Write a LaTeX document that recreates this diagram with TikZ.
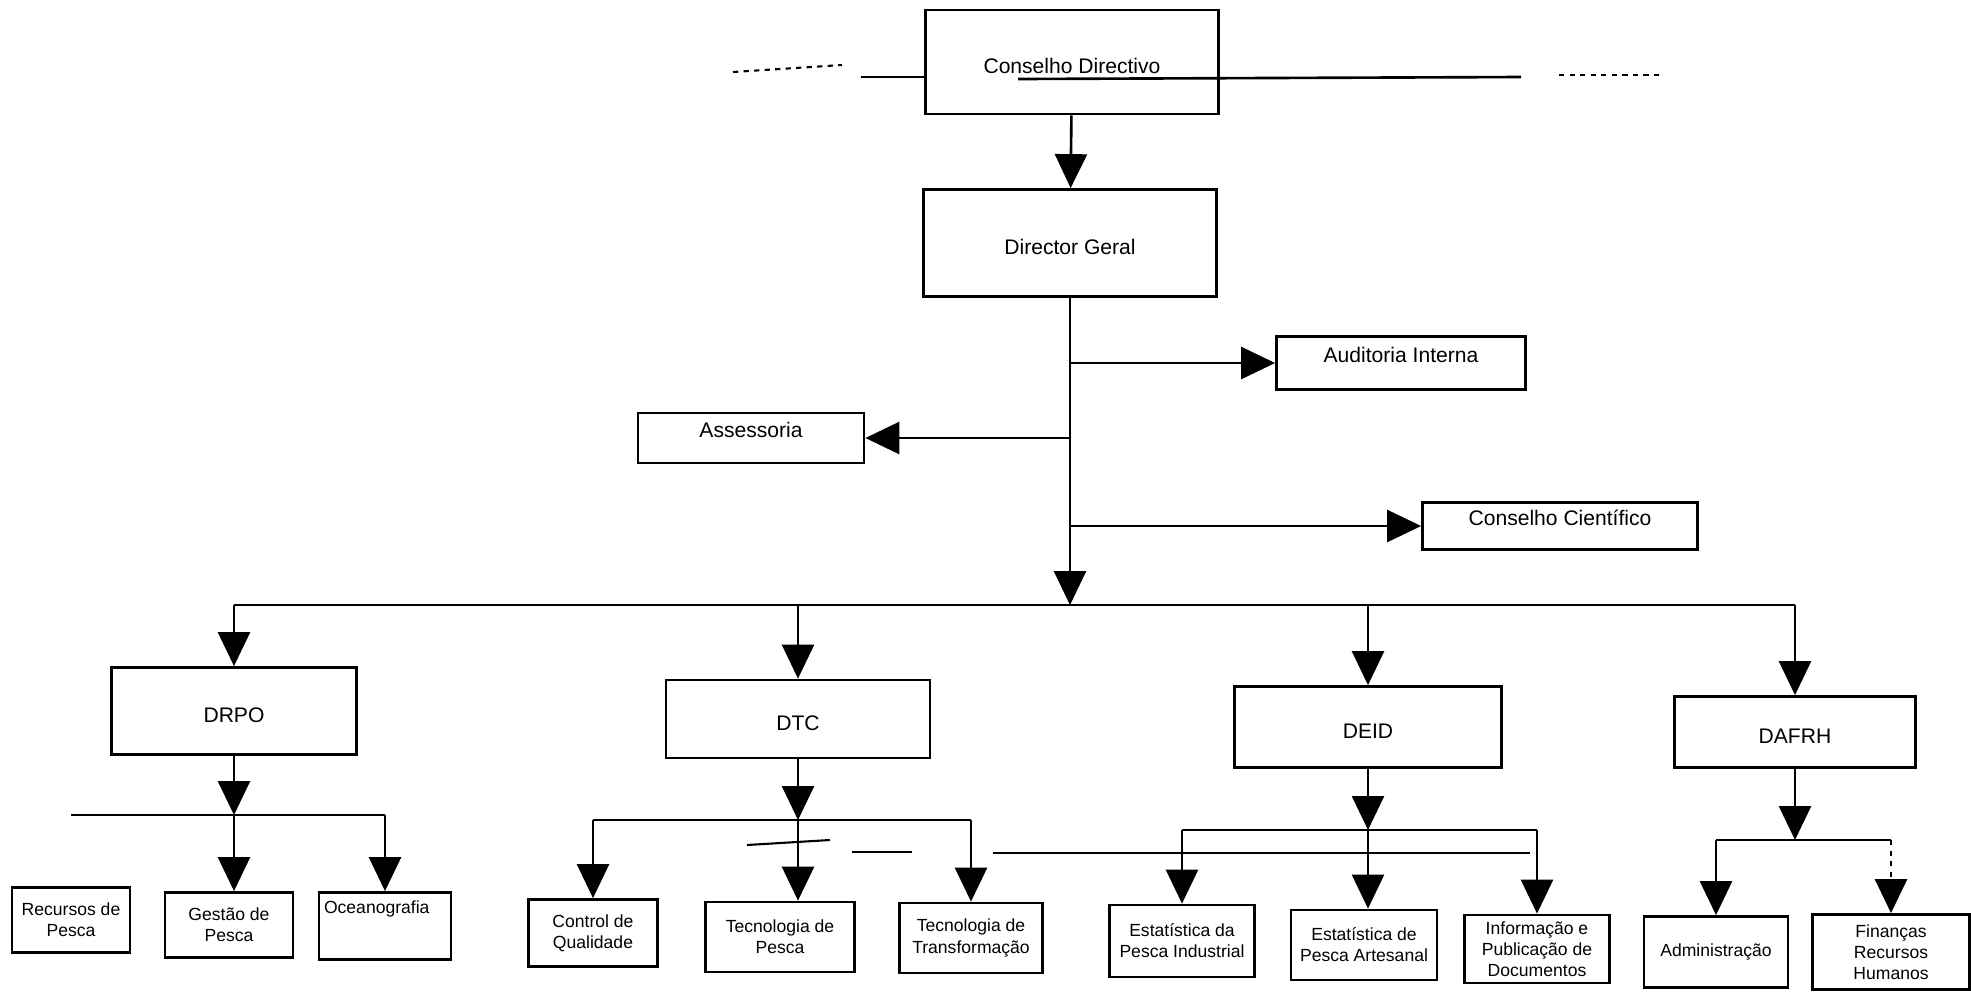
\documentclass[tikz,border=0pt]{standalone}
\usepackage{fontspec}
\setmainfont{Liberation Sans}
\usetikzlibrary{arrows.meta}

\begin{document}
\begin{tikzpicture}[
		x=0.02cm,
		y=-0.02cm,
		line width=1.5pt,
		>={Triangle[length=0.68cm,width=0.64cm]},
		every node/.style={
			rectangle,
			draw,
			line width=1.6pt,
			inner sep=2pt,
			align=center
		},
		boss/.style={
			font=\fontsize{12}{15}\selectfont,
			text height=13pt,
			text depth=0pt
		},
		staff/.style={
			font=\fontsize{12}{15}\selectfont,
			text depth=9pt
		},
		sect/.style={
			font=\fontsize{10}{12}\selectfont
		}]

		\useasboundingbox (0,0) rectangle (1971,992);

		\node[boss, minimum width=5.86cm, minimum height=2.08cm] at (1072,62) (cd) {Conselho Directivo};
		\node[boss, minimum width=5.86cm, minimum height=2.14cm] at (1070,243) (dg) {Director Geral};

		\node[staff, minimum width=4.98cm, minimum height=1.06cm] at (1401,363) (audit) {Auditoria Interna};
		\node[staff, minimum width=4.52cm, minimum height=1cm] at (751,438) (assess) {Assessoria};
		\node[staff, minimum width=5.5cm, minimum height=0.94cm] at (1560,526) (sci) {Conselho Científico};

		\node[boss, minimum width=4.9cm, minimum height=1.74cm] at (234,711) (drpo) {DRPO};
		\node[boss, minimum width=5.28cm, minimum height=1.56cm] at (798,719) (dtc) {DTC};
		\node[boss, minimum width=5.34cm, minimum height=1.62cm] at (1368,727) (deid) {DEID};
		\node[boss, minimum width=4.82cm, minimum height=1.42cm] at (1795,732) (dafrh) {DAFRH};

		\node[sect, minimum width=2.36cm, minimum height=1.3cm] at (71,920) (recursos) {Recursos de\\Pesca};
		\node[sect, minimum width=2.56cm, minimum height=1.3cm] at (229,925) (gestao) {Gestão de\\Pesca};
		\node[sect,
			minimum width=2.64cm,
			minimum height=1.34cm,
			text width=2.44cm,
			align=left,
			text depth=22pt] at (385,926) (ocean) {Oceanografia};
		\node[sect, minimum width=2.58cm, minimum height=1.34cm] at (593,933) (qual) {Control de\\Qualidade};
		\node[sect, minimum width=2.98cm, minimum height=1.4cm] at (780,937) (tecpesca) {Tecnologia de\\Pesca};
		\node[sect, minimum width=2.86cm, minimum height=1.4cm] at (971,938) (tectrans) {Tecnologia de\\Transformação};
		\node[sect, minimum width=2.9cm, minimum height=1.44cm] at (1182,941) (estind) {Estatística da\\Pesca Industrial};
		\node[sect, minimum width=2.92cm, minimum height=1.4cm] at (1364,945) (estart) {Estatística de\\Pesca Artesanal};
		\node[sect, minimum width=2.9cm, minimum height=1.36cm] at (1537,949) (info) {Informação e\\Publicação de\\Documentos};
		\node[sect, minimum width=2.88cm, minimum height=1.42cm] at (1716,952) (admin) {Administração};
		\node[sect, minimum width=3.14cm, minimum height=1.5cm] at (1891,952) (fin) {Finanças\\Recursos\\Humanos};

		\coordinate (bus) at (1070,605);
		\coordinate (s1) at (234,815);
		\coordinate (s2) at (798,820);
		\coordinate (s3) at (1368,830);
		\coordinate (s4) at (1795,840);

		%top
		\draw[->] (cd) -- (dg);
		\draw[->] (dg) -- (bus);
		\draw[->] (audit.west -| dg) -- (audit);
		\draw[->] (assess.east -| dg) -- (assess);
		\draw[->] (sci.west -| dg) -- (sci);

		%departments
		\draw (drpo |- bus) -- (dafrh |- bus);
		\draw[->] (drpo |- bus) -- (drpo);
		\draw[->] (dtc |- bus) -- (dtc);
		\draw[->] (deid |- bus) -- (deid);
		\draw[->] (dafrh |- bus) -- (dafrh);

		%drpo
		\draw[->] (drpo) -- (s1);
		\draw (recursos |- s1) -- (ocean |- s1);
		\draw[->] (s1) -- (s1 |- gestao.north);
		\draw[->] (ocean |- s1) -- (ocean);

		%dtc
		\draw[->] (dtc) -- (s2);
		\draw (qual |- s2) -- (tectrans |- s2);
		\draw[->] (s2) -- (s2 |- tecpesca.north);
		\draw[->] (qual |- s2) -- (qual);
		\draw[->] (tectrans |- s2) -- (tectrans);

		%deid
		\draw[->] (deid) -- (s3);
		\draw (estind |- s3) -- (info |- s3);
		\draw[->] (s3) -- (s3 |- estart.north);
		\draw[->] (estind |- s3) -- (estind);
		\draw[->] (info |- s3) -- (info);

		%dafrh
		\draw[->] (dafrh) -- (s4);
		\draw (admin |- s4) -- (fin |- s4);
		\draw[->] (admin |- s4) -- (admin);
		\draw[->, dashed] (fin |- s4) -- (fin);

		%scan lines
		\draw[dashed, line width=1.2pt] (733,72) -- (842,65);
		\draw (861,77) -- (926,77);
		\draw (1018,79) -- (1521,77);
		\draw[dashed, line width=1.2pt] (1559,75) -- (1660,75);
		\draw[line width=1.2pt] (747,845) -- (830,840);
		\draw[line width=1.2pt] (852,852) -- (912,852);
		\draw (993,853) -- (1530,853);

	\end{tikzpicture}
\end{document}
